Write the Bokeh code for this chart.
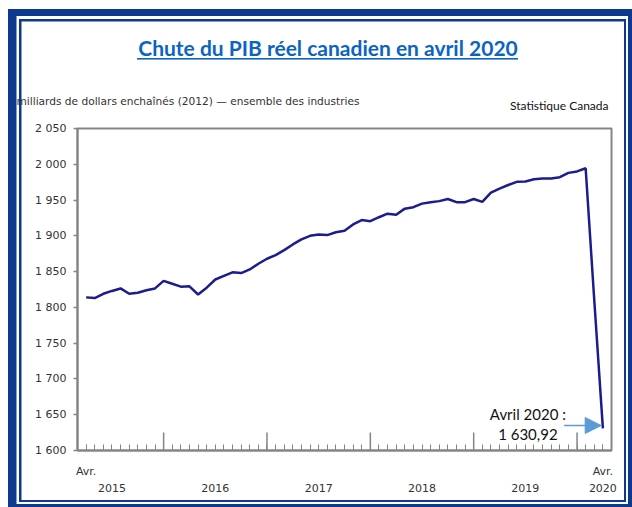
from bokeh.plotting import figure
from bokeh.models import (Range1d, FixedTicker, Label, Arrow, NormalHead,
                          LinearAxis)
from bokeh.embed import file_html
from bokeh.resources import INLINE

# ---------------- data ----------------
# monthly real GDP, all industries, billions of chained (2012) dollars, Apr 2015 .. Apr 2020
gdp = [1814, 1813, 1819, 1823, 1826.5, 1819, 1820.5, 1824, 1826.5,
       1837, 1833, 1829, 1829.5, 1818, 1827.5, 1839, 1844, 1849, 1848,
       1853, 1861, 1868, 1873, 1880, 1888, 1895, 1900, 1902, 1901, 1905,
       1907, 1916, 1922, 1920.5, 1926, 1931, 1929.5, 1938, 1940, 1945,
       1947, 1948.5, 1951.5, 1947, 1947, 1951.5, 1947.5, 1960.5, 1966,
       1971, 1975.5, 1976, 1979, 1980, 1980, 1982, 1988, 1990, 1994.4,
       1810, 1630.92]
months = list(range(len(gdp)))          # 0 = avr. 2015 ... 60 = avr. 2020
jan_positions = [9, 21, 33, 45, 57]      # janvier de chaque année
year_label_pos = [3, 15, 27, 39, 51, 60]
year_labels = ["2015", "2016", "2017", "2018", "2019", "2020"]
avr_pos = [0, 60]
avr_labels = ["Avr.", "Avr."]
y_ticks = [1600, 1650, 1700, 1750, 1800, 1850, 1900, 1950, 2000, 2050]
y_tick_labels = ["1 600", "1 650", "1 700", "1 750", "1 800", "1 850",
                 "1 900", "1 950", "2 000", "2 050"]
title_text = "Chute du PIB réel canadien en avril 2020"
subtitle_text = "milliards de dollars enchaînés (2012) — ensemble des industries"
source_text = "Statistique Canada"
annot_lines = ["Avril 2020 :", "1 630,92"]

NAVY = "#0d3a8e"
TITLE_BLUE = "#0b63c4"
LINE = "#1c1c8f"
GRAY = "#858585"
TXT = "#333333"

# decorative double frame + title underline (CSS backgrounds behind the canvas)
bands = [  # x, y, w, h  (pixels)
    (8, 9, 8.5, 498), (8, 9, 624, 7), (628, 9, 4, 498), (8, 504, 624, 3),
    (19, 19, 2.5, 483), (19, 19, 607, 2.5), (624, 19, 2, 483), (19, 500, 607, 2),
]
layers = [f"linear-gradient({NAVY},{NAVY}) {x}px {y}px / {w}px {h}px no-repeat"
          for x, y, w, h in bands]
layers.append(f"linear-gradient({TITLE_BLUE},{TITLE_BLUE}) 137px 57.5px / 381px 1.6px no-repeat")
layers.append("white")

p = figure(width=632, height=507, output_backend="svg", toolbar_location=None,
           x_range=Range1d(-1, 61), y_range=Range1d(1600, 2050),
           min_border_left=77, min_border_right=21, min_border_top=128,
           min_border_bottom=57, background_fill_color="white",
           border_fill_color=None)
p.styles = {"background": ", ".join(layers)}
p.grid.visible = False
p.outline_line_color = GRAY
p.outline_line_width = 2

# y axis
ya = p.yaxis[0]
ya.ticker = FixedTicker(ticks=y_ticks)
ya.major_label_overrides = {t: l for t, l in zip(y_ticks, y_tick_labels)}
ya.major_tick_out = 4
ya.major_tick_in = 0
ya.minor_tick_out = 0
ya.minor_tick_in = 0
ya.axis_line_color = GRAY
ya.axis_line_width = 2
ya.major_tick_line_color = GRAY
ya.major_tick_line_width = 1.5
ya.major_label_standoff = 7
ya.major_label_text_font = "DejaVu Sans"
ya.major_label_text_font_size = "11px"
ya.major_label_text_color = TXT

# x axis 1: monthly ticks + "Avr." labels
xa = p.xaxis[0]
xa.ticker = FixedTicker(ticks=avr_pos, minor_ticks=months)
xa.major_label_overrides = {t: l for t, l in zip(avr_pos, avr_labels)}
xa.major_tick_in = 6
xa.major_tick_out = 0
xa.minor_tick_in = 6
xa.minor_tick_out = 0
xa.axis_line_color = GRAY
xa.axis_line_width = 2
xa.major_tick_line_color = GRAY
xa.major_tick_line_width = 1
xa.minor_tick_line_color = GRAY
xa.minor_tick_line_width = 1
xa.major_label_standoff = 14
xa.major_label_text_font = "DejaVu Sans"
xa.major_label_text_font_size = "11px"
xa.major_label_text_color = TXT

# x axis 2: year labels
xa2 = LinearAxis(ticker=FixedTicker(ticks=year_label_pos),
                 major_label_overrides={t: l for t, l in zip(year_label_pos, year_labels)},
                 axis_line_color=None, major_tick_line_color=None,
                 minor_tick_line_color=None, major_label_standoff=-3,
                 major_label_text_font="DejaVu Sans",
                 major_label_text_font_size="11px",
                 major_label_text_color=TXT)
p.add_layout(xa2, "below")

# long January ticks (inside, from the x axis)
p.segment(x0=jan_positions, y0=[1600] * len(jan_positions),
          x1=jan_positions, y1=[1625] * len(jan_positions),
          line_color=GRAY, line_width=1.5)

p.line(months, gdp, line_color=LINE, line_width=2.5)

# annotation of last point
last_x, last_y = months[-1], gdp[-1]
p.add_layout(Arrow(x_start=last_x - 4.5, y_start=last_y + 4,
                   x_end=last_x - 0.2, y_end=last_y + 4,
                   line_color="#5b9bd5", line_width=1.5,
                   end=NormalHead(size=16, fill_color="#5b9bd5",
                                  line_color="#5b9bd5")))
for k, txt in enumerate(annot_lines):
    p.add_layout(Label(x=last_x, x_offset=-75, y=413 + 20 * k,
                       x_units="data", y_units="canvas", text=txt,
                       text_align="center", text_baseline="middle",
                       text_font="Lato", text_font_size="15px",
                       text_color="#111111"))

# title, subtitle, source (in the top side panel, positioned on the canvas)
p.add_layout(Label(x=327.5, y=47, x_units="canvas", y_units="canvas",
                   text=title_text, text_align="center", text_baseline="middle",
                   text_font="Lato", text_font_style="bold",
                   text_font_size="21px", text_color=TITLE_BLUE), "above")
p.add_layout(Label(x=16, y=100, x_units="canvas", y_units="canvas",
                   text=subtitle_text, text_align="left", text_baseline="middle",
                   text_font="DejaVu Sans", text_font_size="10.6px",
                   text_color=TXT), "above")
p.add_layout(Label(x=608, y=105, x_units="canvas", y_units="canvas",
                   text=source_text, text_align="right", text_baseline="middle",
                   text_font="Lato", text_font_size="12px",
                   text_color="#111111"), "above")

open("out.html", "w").write(file_html(p, INLINE))
